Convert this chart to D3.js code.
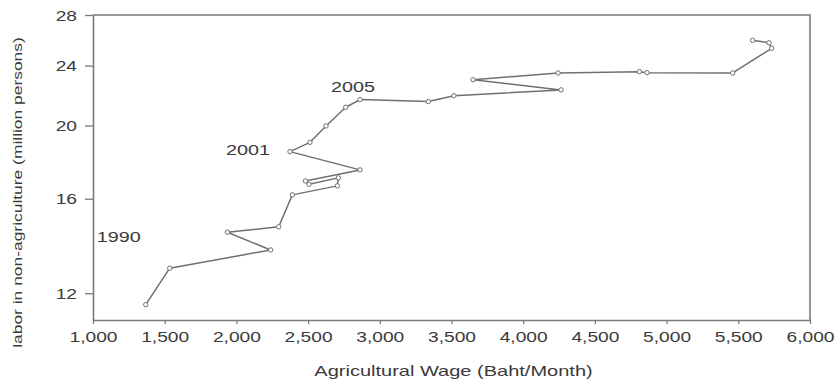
<!DOCTYPE html>
<html>
<head>
<meta charset="utf-8">
<script src="https://cdn.jsdelivr.net/npm/d3@7/dist/d3.min.js"></script>
<style>
  body { margin: 0; background: #fff; }
  text { font-family: "Liberation Sans", Arial, sans-serif; fill: #3a3a3a; }
</style>
</head>
<body>
<svg id="chart" width="837" height="383"></svg>
<script>
// Annual observations, 1990-2016
const years = [1990, 1991, 1992, 1993, 1994, 1995, 1996, 1997, 1998, 1999,
               2000, 2001, 2002, 2003, 2004, 2005, 2006, 2007, 2008, 2009,
               2010, 2011, 2012, 2013, 2014, 2015, 2016];
// Agricultural wage (Baht/Month)
const wage = [1368, 1535, 2239, 1937, 2295, 2390, 2704, 2711, 2506, 2481,
              2862, 2374, 2513, 2625, 2762, 2862, 3338, 3517, 4264, 3650,
              4243, 4810, 4863, 5461, 5733, 5714, 5600];
// Labor in non-agriculture (million persons)
const labor = [11.59, 12.95, 13.69, 14.45, 14.69, 16.19, 16.64, 17.05, 16.72, 16.89,
               17.47, 18.47, 19.00, 19.97, 21.14, 21.64, 21.51, 21.90, 22.29, 22.99,
               23.47, 23.56, 23.49, 23.47, 25.30, 25.73, 25.92];
const xTicks = [1000, 1500, 2000, 2500, 3000, 3500, 4000, 4500, 5000, 5500, 6000];
const yTicks = [12, 16, 20, 24, 28];
const labeledYears = [1990, 2001, 2005];

const svg = d3.select("#chart");
const plot = { left: 93, right: 810, top: 15, bottom: 320 };
const stretch = 1.37;        // wide lettering used throughout
const axisColor = "#7a7a7a";
const lineColor = "#707070";

const x = d3.scaleLinear().domain([1000, 6000]).range([plot.left, plot.right]);
const y = d3.scaleLog().domain([11.06, 28]).range([plot.bottom, plot.top]);

// frame: top and right edges
svg.append("path")
  .attr("d", `M${plot.left},${plot.top}H${plot.right}V${plot.bottom}`)
  .attr("fill", "none").attr("stroke", axisColor).attr("stroke-width", 1.6);

// x axis
const xAxis = svg.append("g")
  .attr("transform", `translate(0,${plot.bottom})`)
  .call(d3.axisBottom(x).tickValues(xTicks).tickFormat(d3.format(",")).tickSize(4).tickSizeOuter(0));
xAxis.select(".domain").attr("stroke", axisColor).attr("stroke-width", 1.6);
xAxis.selectAll(".tick line").attr("stroke", axisColor).attr("stroke-width", 1.3);
xAxis.selectAll(".tick text")
  .attr("y", 22).attr("dy", 0)
  .attr("transform", `scale(${stretch},1)`)
  .style("font-size", "14px").style("font-family", "'Liberation Sans', Arial, sans-serif")
  .attr("fill", "#3a3a3a");

// y axis (log scale)
const yAxis = svg.append("g")
  .attr("transform", `translate(${plot.left},0)`)
  .call(d3.axisLeft(y).tickValues(yTicks).tickFormat(d3.format("d")).tickSize(8).tickSizeOuter(0));
yAxis.select(".domain").attr("stroke", axisColor).attr("stroke-width", 1.6);
yAxis.selectAll(".tick line").attr("stroke", axisColor).attr("stroke-width", 1.3);
yAxis.selectAll(".tick text")
  .attr("x", -16 / stretch).attr("dy", "0.36em")
  .attr("transform", `scale(${stretch},1)`)
  .style("font-size", "14px").style("font-family", "'Liberation Sans', Arial, sans-serif")
  .attr("fill", "#3a3a3a");

// axis titles
svg.append("text")
  .attr("transform", `translate(${(plot.left + plot.right) / 2 + 2},376) scale(1.38,1)`)
  .attr("text-anchor", "middle")
  .style("font-size", "14.5px")
  .text("Agricultural Wage (Baht/Month)");

svg.append("text")
  .attr("transform", `translate(21.5,192.5) rotate(-90) scale(1.34,1)`)
  .attr("text-anchor", "middle")
  .style("font-size", "13px")
  .text("labor in non-agriculture (million persons)");

// connected scatter
const pts = years.map((yr, i) => ({ year: yr, w: wage[i], l: labor[i] }));
svg.append("path")
  .datum(pts)
  .attr("fill", "none")
  .attr("stroke", lineColor)
  .attr("stroke-width", 1.5)
  .attr("stroke-linejoin", "round")
  .attr("d", d3.line().x(d => x(d.w)).y(d => y(d.l)));

svg.append("g").selectAll("circle")
  .data(pts)
  .join("circle")
  .attr("cx", d => x(d.w))
  .attr("cy", d => y(d.l))
  .attr("r", 2.2)
  .attr("fill", "#fff")
  .attr("stroke", lineColor)
  .attr("stroke-width", 1);

// year annotations, offset from their points
const labelOffset = {
  1990: { dx: -5, dy: -62.5, anchor: "end" },
  2001: { dx: -20, dy: 3.5, anchor: "end" },
  2005: { dx: -7, dy: -8, anchor: "middle" }
};
svg.append("g").selectAll("text")
  .data(pts.filter(d => labeledYears.includes(d.year)))
  .join("text")
  .attr("transform", d => {
    const o = labelOffset[d.year];
    return `translate(${x(d.w) + o.dx},${y(d.l) + o.dy}) scale(1.32,1)`;
  })
  .attr("text-anchor", d => labelOffset[d.year].anchor)
  .style("font-size", "15px")
  .text(d => d.year);
</script>
</body>
</html>
